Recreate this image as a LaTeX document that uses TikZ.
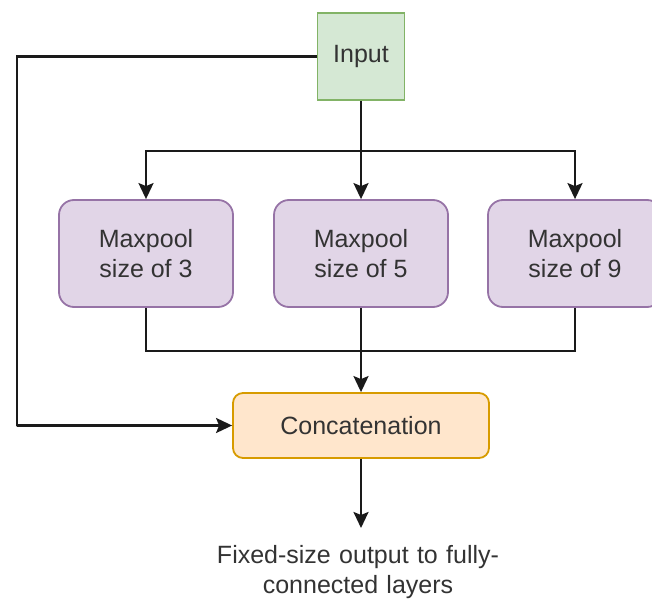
\documentclass[tikz,border=0pt]{standalone}
\usepackage{fontspec}
\setmainfont{Liberation Sans}
\usetikzlibrary{arrows.meta}
\definecolor{inpfill}{HTML}{D5E8D4}
\definecolor{inpdraw}{HTML}{82B366}
\definecolor{mpfill}{HTML}{E1D5E7}
\definecolor{mpdraw}{HTML}{9673A6}
\definecolor{ccfill}{HTML}{FFE6CC}
\definecolor{ccdraw}{HTML}{D79B00}
\definecolor{txt}{HTML}{333333}
\definecolor{ln}{HTML}{1A1A1A}
\tikzset{
  x=1pt, y=-1pt,
  every node/.style={font=\fontsize{25}{30}\selectfont, text=txt, align=center, inner sep=0pt},
  inpbox/.style={draw=inpdraw, fill=inpfill, line width=1.8pt, minimum width=87pt, minimum height=87pt},
  mpbox/.style={draw=mpdraw, fill=mpfill, line width=1.8pt, rounded corners=15pt, minimum width=174pt, minimum height=107pt},
  ccbox/.style={draw=ccdraw, fill=ccfill, line width=1.8pt, rounded corners=10pt, minimum width=256pt, minimum height=65pt},
  conn/.style={draw=ln, line width=2.4pt},
  arr/.style={conn, -{Stealth[length=16pt, width=15pt, inset=3pt]}},
}
\begin{document}
\begin{tikzpicture}
\useasboundingbox (0,0) rectangle (652,601);
\node[inpbox] (inp) at (361,56.5) {Input};
\node[mpbox] (m3) at (146,253.5) {Maxpool\\size of 3};
\node[mpbox] (m5) at (361,253.5) {Maxpool\\size of 5};
\node[mpbox] (m9) at (575,253.5) {Maxpool\\size of 9};
\node[ccbox] (cc) at (361,425.5) {Concatenation};
\node[text width=320pt] (out) at (358,572) {Fixed-size output to fully-\\connected layers};
\coordinate (split) at (361,151);
\coordinate (merge) at (361,351);
\coordinate (lcorner) at (17,426);
\coordinate (outtip) at (361,528);
% input to maxpools
\draw[conn] (inp.south) -- (split);
\draw[arr] (split) -- (m5.north);
\draw[arr] (split) -| (m3.north);
\draw[arr] (split) -| (m9.north);
% maxpools to concatenation
\draw[conn] (m3.south) |- (merge);
\draw[conn] (m9.south) |- (merge);
\draw[conn] (m5.south) -- (merge);
\draw[arr] (merge) -- (cc.north);
% skip connection
\draw[arr] (inp.west) -| (lcorner) |- (cc.west);
% output
\draw[arr] (cc.south) -- (outtip);
\end{tikzpicture}
\end{document}
